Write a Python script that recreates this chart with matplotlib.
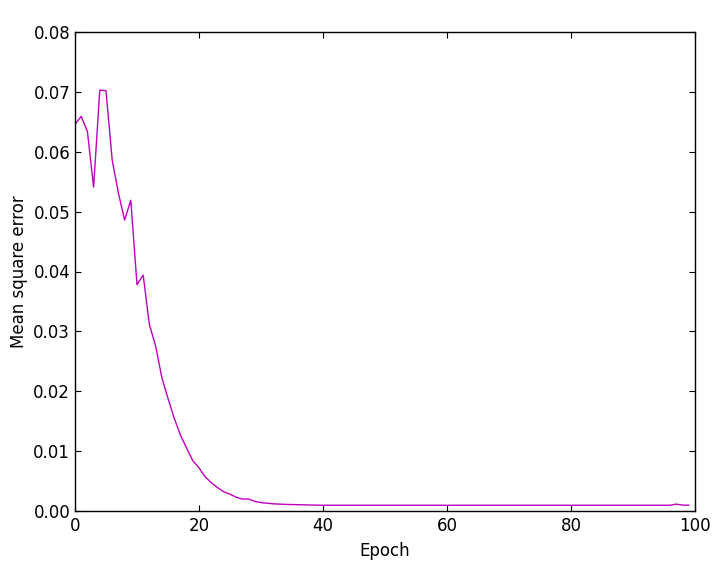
import matplotlib
matplotlib.use("Agg")
import matplotlib.pyplot as plt
import numpy as np

epochs = list(range(100))
mse_head = [0.0646, 0.0659, 0.0634, 0.0541, 0.0703, 0.0702, 0.0586, 0.0531, 0.0486, 0.0519,
            0.0378, 0.0394, 0.0311, 0.0276, 0.0223, 0.0188, 0.0155, 0.0127, 0.0105, 0.0084,
            0.0072, 0.0057, 0.0047, 0.0039, 0.0032, 0.0028, 0.0023, 0.0020, 0.0020, 0.0016,
            0.0014, 0.0013, 0.0012, 0.00115, 0.0011, 0.00108, 0.00105, 0.00103, 0.00100, 0.00098]
mse_tail = [0.00096] * 57 + [0.00115, 0.00098, 0.00097]
mse = mse_head + mse_tail

x_ticks = [0, 20, 40, 60, 80, 100]
y_ticks = [0.00, 0.01, 0.02, 0.03, 0.04, 0.05, 0.06, 0.07, 0.08]

fig = plt.figure(figsize=(7.19, 5.70), dpi=100)
ax = fig.add_axes([75/719, 59/570, 620/719, 479/570])
ax.plot(epochs, mse, color='#bf00bf', linewidth=1.0)
ax.set_xlim(0, 100)
ax.set_ylim(0, 0.08)
ax.set_xticks(x_ticks)
ax.set_yticks(y_ticks)
ax.set_yticklabels([f"{v:.2f}" for v in y_ticks])
ax.tick_params(direction='in', top=True, right=True, length=4, width=0.8, labelsize=12, pad=4)
ax.tick_params(axis='y', pad=3.5)
for s in ax.spines.values():
    s.set_linewidth(1.0)
ax.set_xlabel('Epoch', fontsize=12, labelpad=5)
ax.set_ylabel('Mean square error', fontsize=12, labelpad=4)
fig.savefig('out.png', dpi=100)
